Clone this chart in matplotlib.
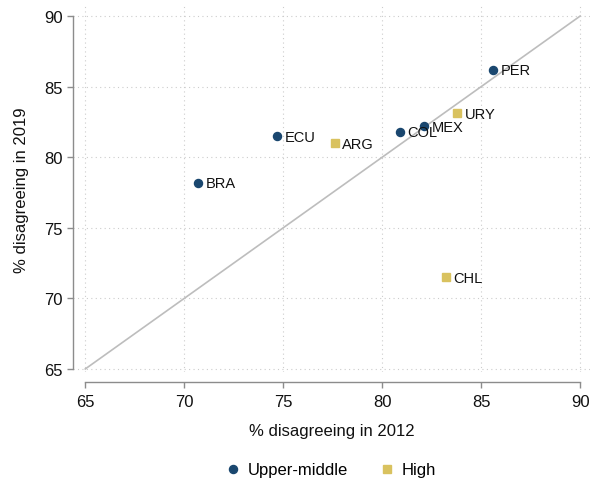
import matplotlib
matplotlib.use("Agg")
import matplotlib.pyplot as plt

plt.rcParams['font.family'] = ['Liberation Sans', 'DejaVu Sans']

# Data
um_countries = ["PER", "MEX", "COL", "ECU", "BRA"]
um_2012 = [85.6, 82.1, 80.9, 74.7, 70.7]
um_2019 = [86.2, 82.2, 81.8, 81.5, 78.2]

hi_countries = ["URY", "ARG", "CHL"]
hi_2012 = [83.8, 77.6, 83.2]
hi_2019 = [83.1, 81.0, 71.5]

ticks = [65, 70, 75, 80, 85, 90]

navy = "#1a476f"
gold = "#d9c25f"

fig = plt.figure(figsize=(5.93, 4.81), dpi=100)
ax = fig.add_axes([0.1231, 0.2235, 0.995 - 0.1231, 0.9854 - 0.2235])

ax.set_xlim(64.38, 90.5)
ax.set_ylim(64.75, 90.71)

# grid
for t in ticks:
    ax.axvline(t, color="#cccccc", lw=0.8, ls=(0, (1, 3)), zorder=0)
    ax.axhline(t, color="#cccccc", lw=0.8, ls=(0, (1, 3)), zorder=0)

# 45-degree line
ax.plot([65, 90], [65, 90], color="#bdbdbd", lw=1.2, zorder=1)

ax.plot(um_2012, um_2019, ls="none", marker="o", ms=5.8, color=navy,
        label="Upper-middle", zorder=3)
ax.plot(hi_2012, hi_2019, ls="none", marker="s", ms=6.2, color=gold,
        label="High", zorder=3)

for c, x, y in zip(um_countries, um_2012, um_2019):
    ax.annotate(c, (x, y), xytext=(5.5, -0.5), textcoords="offset points",
                va="center", ha="left", fontsize=10.5, color="#111111", zorder=4)
for c, x, y in zip(hi_countries, hi_2012, hi_2019):
    ax.annotate(c, (x, y), xytext=(5.5, -0.5), textcoords="offset points",
                va="center", ha="left", fontsize=10.5, color="#111111", zorder=4)

# spines Stata-like
for s in ["top", "right"]:
    ax.spines[s].set_visible(False)
ax.spines["left"].set_bounds(65, 90)
ax.spines["bottom"].set_bounds(65, 90)
ax.spines["bottom"].set_position(("outward", 6.5))
ax.spines["left"].set_color("#8c8c8c")
ax.spines["bottom"].set_color("#8c8c8c")
ax.spines["left"].set_linewidth(1.0)
ax.spines["bottom"].set_linewidth(1.0)

ax.set_xticks(ticks)
ax.set_yticks(ticks)
ax.tick_params(axis="both", length=4.5, width=1.0, color="#8c8c8c",
               labelsize=12, labelcolor="#111111")
ax.tick_params(axis="x", pad=4.5)
ax.tick_params(axis="y", pad=3)

ax.set_xlabel("% disagreeing in 2012", fontsize=12, color="#111111", labelpad=10)
ax.set_ylabel("% disagreeing in 2019", fontsize=12, color="#111111", labelpad=11)

fig.legend(loc="center", bbox_to_anchor=(0.556, 0.021), ncol=2, frameon=False,
           fontsize=12, handletextpad=0.3, columnspacing=1.7, handlelength=1.2,
           markerscale=1.0)

fig.savefig("out.png", dpi=100, facecolor="white")
